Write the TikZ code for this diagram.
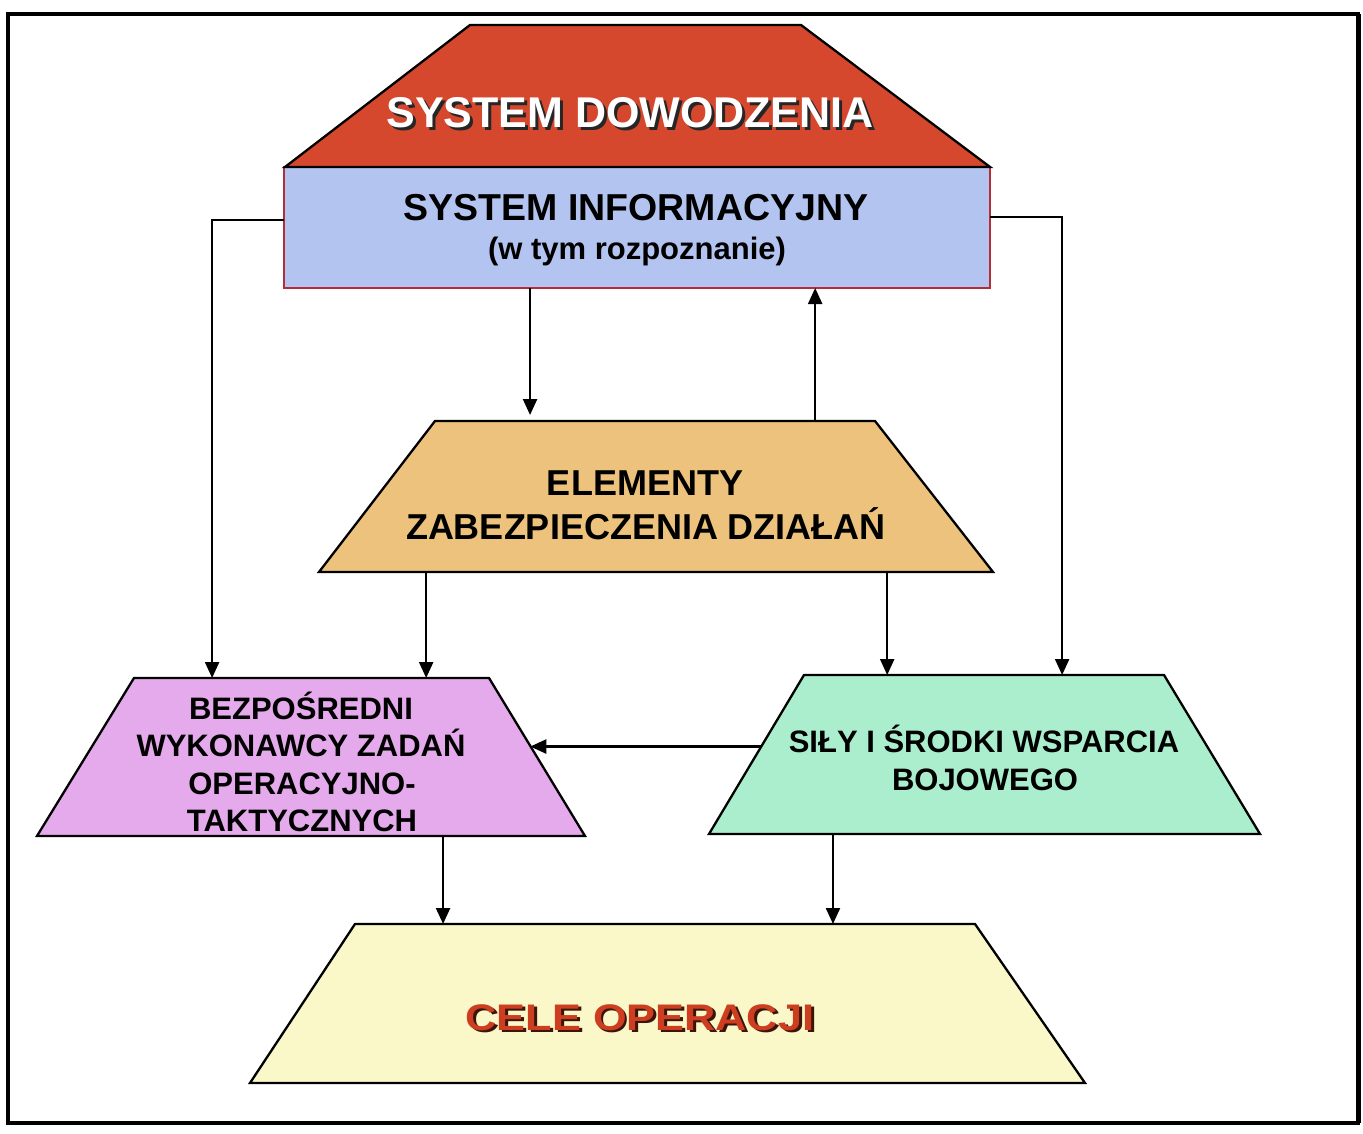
\documentclass[tikz,border=0pt]{standalone}
\usepackage{fontspec}
\usepackage{graphicx}
\setmainfont{Liberation Sans}
\usetikzlibrary{arrows.meta,calc}
\definecolor{cmdred}{RGB}{214,72,45}
\definecolor{infoblue}{RGB}{180,196,240}
\definecolor{blueedge}{RGB}{180,45,55}
\definecolor{elemorange}{RGB}{236,194,124}
\definecolor{bezppink}{RGB}{228,170,235}
\definecolor{silygreen}{RGB}{170,238,206}
\definecolor{celefill}{RGB}{250,248,200}
\definecolor{celetext}{RGB}{205,62,32}
\definecolor{celeshadow}{RGB}{60,20,10}
\newcommand{\shtext}[4]{\makebox[0pt][l]{\hspace*{#3}\raisebox{-#3}{\color{#1}#4}}{\color{#2}#4}}
% name, fill, top-left x, top-right x, top y, bottom-left x, bottom-right x, bottom y
\newcommand{\trapshape}[8]{%
  \coordinate (#1-tl) at (#3,#5); \coordinate (#1-tr) at (#4,#5);
  \coordinate (#1-bl) at (#6,#8); \coordinate (#1-br) at (#7,#8);
  \filldraw[shp, fill=#2] (#1-tl) -- (#1-tr) -- (#1-br) -- (#1-bl) -- cycle;}
\begin{document}
\begin{tikzpicture}[x=1pt,y=-1pt,
  shp/.style={draw=black, line width=2.3pt, line join=miter},
  arr/.style={line width=2.3pt, -{Triangle[length=16pt,width=14pt]}},
  lbl/.style={inner sep=0pt, anchor=base}]

\useasboundingbox (0,0) rectangle (1363,1134);
\fill[white] (0,0) rectangle (1363,1134);
\draw[line width=3.5pt] (8,14) rectangle (1358,1123);
\draw[line width=5pt] (1358,14) -- (1358,1123);

% shapes
\node[draw=blueedge, line width=1.5pt, fill=infoblue, inner sep=0pt, outer sep=0pt, minimum width=706pt, minimum height=121pt] (info) at (637,227.5) {};
\trapshape{dow}{cmdred}{470}{801}{25}{285}{990}{167}
\trapshape{elem}{elemorange}{435}{875}{421}{319}{993}{572}
\trapshape{bezp}{bezppink}{134}{489}{678}{37}{585}{836}
\trapshape{sily}{silygreen}{804}{1164}{675}{709}{1260}{834}
\trapshape{cele}{celefill}{355}{975}{924}{250}{1085}{1083}

% labels
\node[lbl, font=\bfseries\fontsize{43}{50}\selectfont] (dowT) at (630,128) {\shtext{black!85}{white}{3pt}{SYSTEM DOWODZENIA}};
\node[lbl, font=\bfseries\fontsize{37.5}{44}\selectfont] (infoT1) at (636,221) {SYSTEM INFORMACYJNY};
\node[lbl, font=\bfseries\fontsize{31}{36}\selectfont] (infoT2) at (637,260) {(w tym rozpoznanie)};
\node[lbl, font=\bfseries\fontsize{36}{42}\selectfont] (elemT1) at (645,495) {ELEMENTY};
\node[lbl, font=\bfseries\fontsize{36}{42}\selectfont] (elemT2) at (646,539) {ZABEZPIECZENIA DZIAŁAŃ};
\node[lbl, font=\bfseries\fontsize{31}{36}\selectfont] (bezpT1) at (301,719) {BEZPOŚREDNI};
\node[lbl, font=\bfseries\fontsize{31}{36}\selectfont] (bezpT2) at (301,756) {WYKONAWCY ZADAŃ};
\node[lbl, font=\bfseries\fontsize{31}{36}\selectfont] (bezpT3) at (302,794) {OPERACYJNO-};
\node[lbl, font=\bfseries\fontsize{31}{36}\selectfont] (bezpT4) at (302,831) {TAKTYCZNYCH};
\node[lbl, font=\bfseries\fontsize{31}{36}\selectfont] (silyT1) at (984,752) {SIŁY I ŚRODKI WSPARCIA};
\node[lbl, font=\bfseries\fontsize{31}{36}\selectfont] (silyT2) at (985,790) {BOJOWEGO};
\node[lbl, font=\bfseries\fontsize{37}{42}\selectfont] (celeT) at (640,1030) {\scalebox{1.17}[1]{\shtext{celeshadow}{celetext}{2.5pt}{CELE OPERACJI}}};

% connector end points on the shapes' edges
\coordinate (bezpIn1) at ($(bezp-tl)!0.22!(bezp-tr)$);
\coordinate (silyIn1) at ($(sily-tl)!0.717!(sily-tr)$);
\coordinate (elemIn) at ($(elem-tl)!0.216!(elem-tr)$);
\coordinate (elemOutUp) at ($(elem-tl)!0.864!(elem-tr)$);
\coordinate (elemOutL) at ($(elem-bl)!0.159!(elem-br)$);
\coordinate (elemOutR) at ($(elem-bl)!0.843!(elem-br)$);
\coordinate (silyL) at ($(sily-tl)!0.45!(sily-bl)$);
\coordinate (bezpR) at ($(bezp-tr)!0.43!(bezp-br)$);
\coordinate (bezpOut) at ($(bezp-bl)!0.741!(bezp-br)$);
\coordinate (silyOut) at ($(sily-bl)!0.225!(sily-br)$);

% connectors
\draw[arr] ([yshift=7.5pt]info.west) -| (bezpIn1);
\draw[arr] ([yshift=10.5pt]info.east) -| (silyIn1);
\draw[arr] (info.south -| elemIn) -- ([yshift=6pt]elemIn);
\draw[arr] (elemOutUp) -- (elemOutUp |- info.south);
\draw[arr] (elemOutL) -- (elemOutL |- bezp-tl);
\draw[arr] (elemOutR) -- (elemOutR |- sily-tl);
\draw[arr] (silyL) -- (bezpR |- silyL);
\draw[arr] (bezpOut) -- (bezpOut |- cele-tl);
\draw[arr] (silyOut) -- (silyOut |- cele-tl);
\end{tikzpicture}
\end{document}
